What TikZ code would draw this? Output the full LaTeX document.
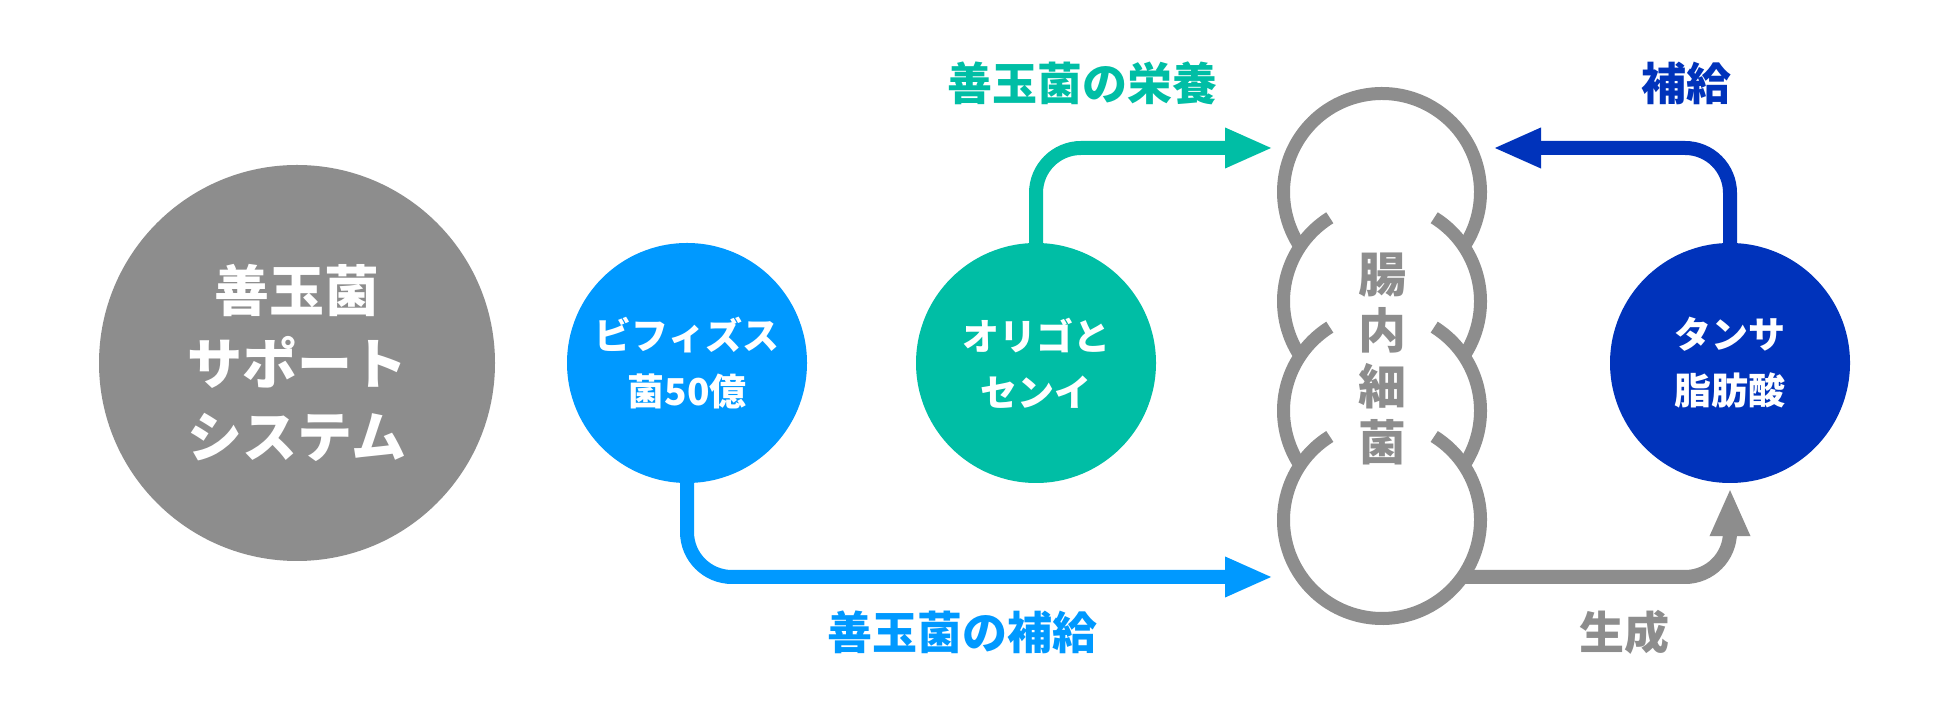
\documentclass[tikz,border=0pt]{standalone}
\usepackage{fontspec}
\newfontfamily\jp{Noto Sans CJK JP}
\usetikzlibrary{arrows.meta}
\definecolor{gutgray}{RGB}{141,141,141}
\definecolor{bifido}{RGB}{0,153,255}
\definecolor{oligo}{RGB}{0,190,165}
\definecolor{tansa}{RGB}{0,51,187}

\begin{document}
\begin{tikzpicture}[x=1pt,y=1pt]
    \tikzstyle{disc}=[circle,inner sep=0pt,minimum size=240pt,text=white,align=center,font=\jp\bfseries\fontsize{37}{56}\selectfont]
    \tikzstyle{flow}=[line width=14pt,rounded corners=45pt,-{Triangle[length=48pt,width=37pt]}]
    \tikzstyle{gutline}=[line width=13pt,draw=gutgray]
    \tikzstyle{caption}=[font=\jp\bfseries\fontsize{45}{54}\selectfont]

    \fill[white] (0,0) rectangle (1950,727);

    \node[disc,minimum size=396pt,fill=gutgray,font=\jp\bfseries\fontsize{55}{73}\selectfont] (system) at (297,364) {善玉菌\\サポート\\システム};
    \node[disc,fill=bifido] (bifido) at (687,364) {ビフィズス\\菌50億};
    \node[disc,fill=oligo] (oligo) at (1036,364) {オリゴと\\センイ};
    \node[disc,fill=tansa] (tansa) at (1730,364) {タンサ\\脂肪酸};

    \draw[gutline] (1382,535) ++(-33.7:98.5) arc[start angle=-33.7,end angle=213.7,radius=98.5];
    \foreach \y in {425.7,316.3} {
        \draw[gutline] (1382,\y) ++(122:98.5) arc[start angle=122,end angle=213.7,radius=98.5];
        \draw[gutline] (1382,\y) ++(58:98.5) arc[start angle=58,end angle=-33.7,radius=98.5];
    }
    \draw[gutline] (1382,207) ++(122:98.5) arc[start angle=122,end angle=418,radius=98.5];
    \node[font=\jp\bfseries\fontsize{48}{56}\selectfont,text=gutgray,align=center] (gut) at (1382,368) {腸\\内\\細\\菌};

    \coordinate (gut-top-left) at (1273,579);
    \coordinate (gut-top-right) at (1493,579);
    \coordinate (gut-low-left) at (1273,150);
    \coordinate (gut-low-right) at (1462,150);

    \draw[flow,bifido] (bifido.south) |- (gut-low-left);
    \draw[flow,oligo] (oligo.north) |- (gut-top-left);
    \draw[flow,tansa] (tansa.north) |- (gut-top-right);
    \draw[flow,gutgray,shorten >=5pt] (gut-low-right) -| (tansa.south);

    \node[caption,text=oligo] (feed) at (1082,644) {善玉菌の栄養};
    \node[caption,text=bifido] (supply) at (962,95) {善玉菌の補給};
    \node[caption,text=tansa] (refill) at (1686,644) {補給};
    \node[caption,text=gutgray] (make) at (1624,95) {生成};
\end{tikzpicture}
\end{document}
